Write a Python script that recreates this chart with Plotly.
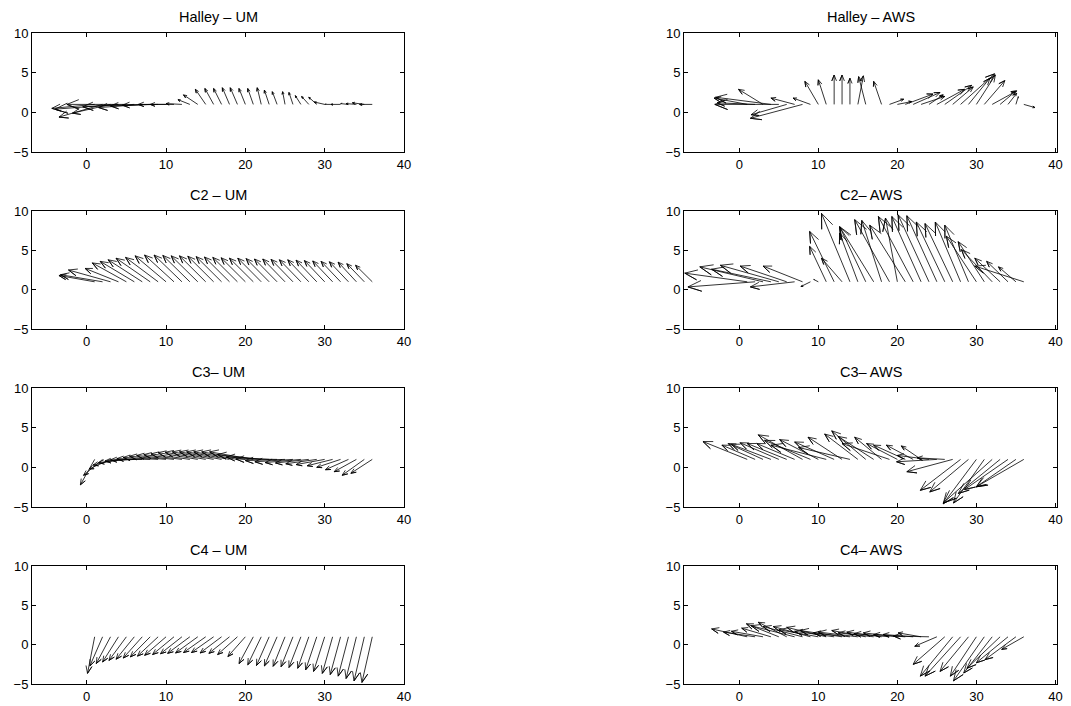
import plotly.graph_objects as go

W, H = 1071, 706
idx = list(range(1, 37))
ORIGIN_Y = 1.0

titles = ["Halley – UM", "C2 – UM", "C3– UM", "C4 – UM",
          "Halley – AWS", "C2– AWS", "C3– AWS", "C4– AWS"]

halley_um_u = [-5.4,-5.5,-4.8,-8.0,-7.5,-6.5,-5.5,-5.0,-4.5,-3.5,-3.0,-2.0,-1.5,-1.8,-1.3,-1.1,-1.0,-0.9,-0.9,-0.8,-0.7,-0.5,-0.6,-0.6,-0.3,-0.5,-0.7,-0.9,-1.0,-1.3,-1.0,-1.2,-1.0,-1.3,-1.5,-1.6]
halley_um_v = [-0.5,-1.6,-1.1,-0.6,0.0,-0.3,-0.4,-0.2,-0.1,0.0,0.0,0.1,0.6,1.2,1.9,2.0,2.0,2.1,2.1,2.0,2.0,2.1,1.8,1.6,1.6,1.5,1.1,1.0,0.9,0.3,0.0,0.0,0.1,0.1,0.2,0.0]

c2_um_u = [-4.5,-5.3,-5.3,-4.2,-4.3,-4.3,-4.3,-4.3,-4.1,-3.9,-3.7,-3.5,-3.4,-3.35,-3.3,-3.25,-3.2,-3.15,-3.1,-3.05,-3.0,-2.95,-2.9,-2.85,-2.8,-2.75,-2.7,-2.65,-2.6,-2.55,-2.5,-2.45,-2.4,-2.3,-2.2,-2.1]
c2_um_v = [0.8,0.9,1.5,1.7,2.4,2.6,2.8,3.0,3.1,3.3,3.4,3.4,3.35,3.3,3.3,3.25,3.2,3.15,3.1,3.05,3.0,3.0,2.95,2.9,2.9,2.85,2.8,2.8,2.75,2.7,2.65,2.6,2.55,2.5,2.3,2.1]

c3_um_u = [-1.8,-2.4,-2.7,-3.2,-3.5,-3.7,-4.0,-4.2,-4.4,-4.6,-4.7,-4.8,-4.9,-5.0,-5.1,-5.2,-5.3,-5.4,-5.5,-5.5,-5.5,-5.5,-5.4,-5.2,-5.0,-4.8,-4.5,-4.2,-3.9,-3.6,-3.2,-3.0,-2.9,-2.8,-2.8,-2.7]
c3_um_v = [-3.2,-2.0,-1.2,-0.7,-0.4,-0.2,-0.05,0.1,0.25,0.4,0.5,0.6,0.7,0.85,0.9,0.95,0.95,0.95,0.95,0.95,0.95,0.6,0.3,0.05,-0.15,-0.3,-0.4,-0.45,-0.55,-0.65,-0.8,-1.0,-1.3,-1.55,-2.0,-1.75]

c4_um_u = [-0.9,-1.6,-1.8,-2.0,-2.2,-2.3,-2.4,-2.5,-2.6,-2.7,-2.7,-2.7,-2.8,-2.8,-2.8,-2.8,-2.7,-2.6,-2.5,-2.2,-1.8,-1.7,-1.6,-1.6,-1.5,-1.5,-1.5,-1.4,-1.4,-1.4,-1.3,-1.3,-1.3,-1.3,-1.3,-1.3]
c4_um_v = [-4.65,-3.7,-3.4,-3.2,-3.0,-2.85,-2.7,-2.55,-2.45,-2.35,-2.25,-2.15,-2.1,-2.05,-2.0,-2.0,-2.05,-2.1,-2.25,-2.5,-3.4,-3.55,-3.65,-3.7,-3.75,-3.8,-3.9,-4.0,-4.2,-4.4,-4.65,-4.8,-5.0,-5.3,-5.6,-5.8]

halley_aws_u = [-4.2,-4.8,-3.1,-7.0,-8.1,-4.5,-3.0,-6.6,-2.2,-1.7,-1.0,0.0,0.0,0.0,0.7,-0.9,0.0,-1.0,1.8,1.8,3.5,3.4,3.0,1.8,3.5,3.4,2.6,4.3,2.7,2.4,2.6,3.1,1.9,1.1,0.3,1.4]
halley_aws_v = [0.8,0.2,1.9,0.9,0.0,-1.3,0.8,-1.75,0.8,2.9,3.1,3.7,3.7,3.3,3.6,3.5,0.0,2.9,0.65,0.35,1.3,1.5,1.0,1.2,1.9,2.4,2.2,3.85,3.3,3.7,3.0,1.7,1.6,1.4,1.0,-0.4]

c2_aws_u = [-7.9,-8.5,-8.0,-7.5,-7.4,-5.9,-5.6,-5.0,-1.2,-0.6,-2.1,-3.1,-2.6,-3.6,-2.3,-3.3,-4.3,-2.5,-4.4,-1.5,-4.5,-4.4,-3.7,-3.9,-3.8,-3.6,-3.5,-3.2,-3.0,-3.8,-3.3,-3.9,-3.2,-2.7,-2.2,-6.2]
c2_aws_v = [1.1,-0.65,1.9,1.6,2.1,2.0,-0.65,2.0,-0.6,0.3,4.5,6.4,3.0,8.7,6.2,7.0,7.0,7.8,7.9,8.1,7.2,8.3,8.3,8.5,8.4,7.6,7.4,7.6,7.2,5.8,5.1,4.1,3.0,2.6,1.9,2.0]

c3_aws_u = [-5.6,-4.2,-4.4,-5.0,-4.9,-5.0,-4.8,-5.6,-5.8,-4.9,-7.0,-5.0,-4.3,-6.5,-4.2,-4.3,-4.5,-3.4,-6.0,-3.9,-4.0,-3.4,-2.5,-4.0,-5.1,-3.5,-5.8,-5.1,-4.9,-4.2,-3.9,-6.2,-5.3,-5.5,-5.0,-6.0]
c3_aws_v = [2.25,1.8,2.0,1.9,2.1,2.0,2.0,3.1,2.4,2.5,1.8,2.2,2.8,1.5,3.2,3.6,2.9,2.8,2.0,2.0,1.8,1.8,1.7,0.5,-0.3,0.2,-1.55,-3.9,-4.1,-5.6,-5.5,-5.5,-4.3,-3.8,-3.45,-3.45]

c4_aws_u = [-4.5,-4.0,-4.0,-3.7,-4.1,-3.6,-5.5,-5.0,-4.7,-5.0,-5.0,-5.0,-5.3,-4.6,-5.0,-4.3,-4.5,-4.4,-4.5,-4.3,-4.0,-3.8,-2.9,-4.5,-2.8,-4.0,-4.1,-4.5,-3.6,-3.3,-3.9,-3.6,-4.2,-4.0,-3.9,-2.8]
c4_aws_v = [1.0,0.6,0.7,1.1,1.65,1.85,1.4,1.3,1.3,0.9,1.2,0.7,0.8,0.5,0.6,0.8,0.5,0.6,0.4,0.5,0.3,0.3,0.5,0.1,-1.2,-3.5,-5.0,-5.0,-4.4,-5.0,-5.6,-4.6,-4.0,-3.3,-2.9,-1.6]

series = [(halley_um_u, halley_um_v), (c2_um_u, c2_um_v), (c3_um_u, c3_um_v), (c4_um_u, c4_um_v),
          (halley_aws_u, halley_aws_v), (c2_aws_u, c2_aws_v), (c3_aws_u, c3_aws_v), (c4_aws_u, c4_aws_v)]

x_ticks = [0, 10, 20, 30, 40]
y_ticks = [-5, 0, 5, 10]

# MATLAB feather arrow shape, relative to the vector
ax_shape = [0, 1, 0.8, 1, 0.8]
ay_shape = [0, 0, 0.08, 0, -0.08]

row_px = [(33, 152), (211, 329), (388, 507), (566, 684)]
col_px = [(32, 404), (684, 1057)]
col_xrange = [[-6.9, 40], [-7.0, 40.2]]

fig = go.Figure()
font = dict(family="Liberation Sans, Arial, Helvetica, sans-serif", color="black")

for k, (title, (u, v)) in enumerate(zip(titles, series)):
    col = k // 4
    row = k % 4
    n = k + 1
    xs, ys = [], []
    for i, uu, vv in zip(idx, u, v):
        for a, b in zip(ax_shape, ay_shape):
            xs.append(i + uu * a - vv * b)
            ys.append(ORIGIN_Y + vv * a + uu * b)
        xs.append(None)
        ys.append(None)
    fig.add_trace(go.Scatter(x=xs, y=ys, mode="lines",
                             line=dict(color="black", width=0.8),
                             xaxis=f"x{n}", yaxis=f"y{n}",
                             showlegend=False, hoverinfo="skip"))
    t, b = row_px[row]
    l, r = col_px[col]
    xd = [l / W, r / W]
    yd = [1 - b / H, 1 - t / H]
    axcommon = dict(showline=True, mirror="ticks", linecolor="black", linewidth=1,
                    ticks="inside", ticklen=4, tickcolor="black", tickwidth=1,
                    showgrid=False, zeroline=False, fixedrange=True, automargin=False,
                    tickfont=dict(size=13, **font))
    fig.layout[f"xaxis{n}"] = dict(domain=xd, range=col_xrange[col], tickvals=x_ticks,
                                   anchor=f"y{n}", **axcommon)
    fig.layout[f"yaxis{n}"] = dict(domain=yd, range=[-5, 10], tickvals=y_ticks,
                                   anchor=f"x{n}", **axcommon)
    fig.add_annotation(text=title, xref="paper", yref="paper",
                       x=(xd[0] + xd[1]) / 2, y=yd[1], xanchor="center", yanchor="bottom",
                       yshift=6, showarrow=False, font=dict(size=14.5, **font))

fig.update_layout(width=W, height=H, margin=dict(l=0, r=0, t=0, b=0, pad=0, autoexpand=False),
                  paper_bgcolor="white", plot_bgcolor="white", showlegend=False)
fig.write_html("out.html",
               post_script="document.body.style.margin='0';document.body.style.overflow='hidden';")
